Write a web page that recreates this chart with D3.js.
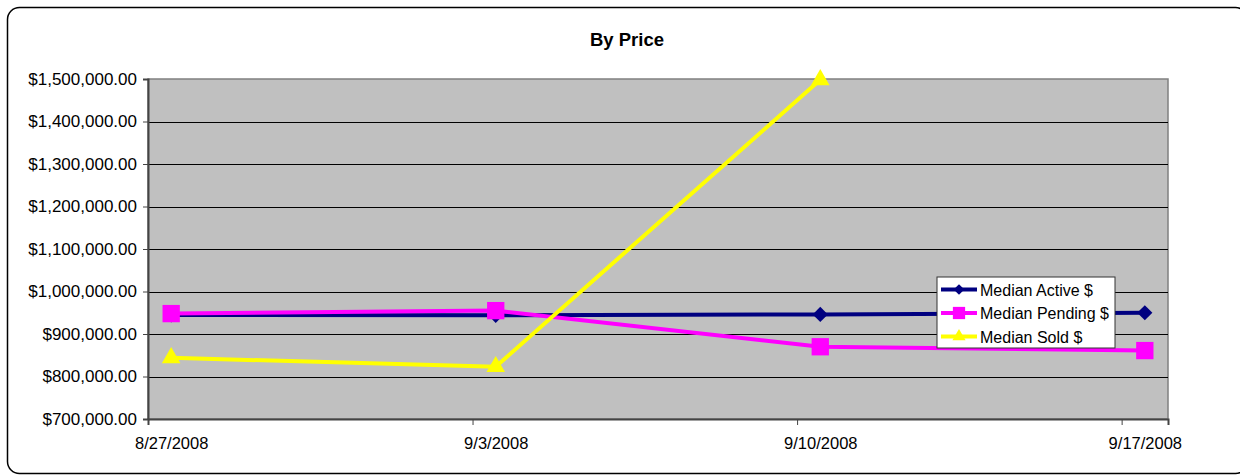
<!DOCTYPE html>
<html>
<head>
<meta charset="utf-8">
<script src="https://cdn.jsdelivr.net/npm/d3@7"></script>
<style>
  body { margin: 0; background: #fff; }
  text { font-family: "Liberation Sans", Arial, sans-serif; fill: #000; }
</style>
</head>
<body>
<svg id="svg"></svg>
<script>
// values
let dates = ["2008-08-27", "2008-09-03", "2008-09-10", "2008-09-17"];
let activeVals = [945000, 944000, 946000, 950000];
let pendingVals = [948000, 955000, 870000, 861000];
let soldVals = [844000, 823000, 1498000];
let yTicks = [700000, 800000, 900000, 1000000, 1100000, 1200000, 1300000, 1400000, 1500000];

let W = 1240, H = 475;
let plot = { x1: 148, x2: 1168, y1: 79, y2: 419 };
let DAY = 86400000;
let parse = d3.utcParse("%Y-%m-%d");
let dateObjs = dates.map(parse);

let svg = d3.select("#svg").attr("width", W).attr("height", H);

// outer rounded frame
svg.append("rect")
   .attr("x", 7.5).attr("y", 7.5)
   .attr("width", 1240).attr("height", 466)
   .attr("rx", 12)
   .attr("fill", "#fff").attr("stroke", "#000").attr("stroke-width", 1.5);

svg.append("text")
   .attr("x", 627).attr("y", 46)
   .attr("text-anchor", "middle")
   .style("font-weight", "bold").style("font-size", "18.5px")
   .text("By Price");

// date axis spans 22 days in the original, points sit in the middle of a day
let x = d3.scaleUtc()
          .domain([dateObjs[0], new Date(dateObjs[0].getTime() + 22 * DAY)])
          .range([plot.x1, plot.x2]);
let y = d3.scaleLinear().domain([700000, 1500000]).range([plot.y2, plot.y1]);
let mid = d => new Date(d.getTime() + DAY / 2);

// plot background
svg.append("rect")
   .attr("x", plot.x1).attr("y", plot.y1)
   .attr("width", plot.x2 - plot.x1).attr("height", plot.y2 - plot.y1)
   .attr("fill", "#c0c0c0").attr("stroke", "#808080").attr("stroke-width", 1.5);

// gridlines
svg.append("g").selectAll("line")
   .data(yTicks.slice(1, -1))
   .enter().append("line")
   .attr("x1", plot.x1).attr("x2", plot.x2)
   .attr("y1", d => Math.round(y(d)) + 0.5).attr("y2", d => Math.round(y(d)) + 0.5)
   .attr("stroke", "#000").attr("stroke-width", 1);

// y axis
let yAxis = svg.append("g")
   .attr("transform", `translate(${plot.x1},0)`)
   .call(d3.axisLeft(y).tickValues(yTicks).tickSize(5).tickPadding(6)
           .tickFormat(d => "$" + d3.format(",.2f")(d)));
yAxis.select(".domain").attr("stroke", "#444").attr("stroke-width", 2);
yAxis.selectAll(".tick line").attr("stroke", "#444");
yAxis.selectAll("text").style("font-size", "17px").attr("fill", "#000");

// x axis
let xAxis = svg.append("g")
   .attr("transform", `translate(0,${plot.y2})`)
   .call(d3.axisBottom(x).tickValues(dateObjs).tickSize(6).tickPadding(12)
           .tickFormat(d3.utcFormat("%-m/%-d/%Y")));
xAxis.select(".domain").attr("stroke", "#444").attr("stroke-width", 2);
xAxis.selectAll(".tick line").attr("stroke", "#444");
xAxis.selectAll("text")
     .style("font-size", "16.5px").attr("fill", "#000")
     .attr("x", x(mid(dateObjs[0])) - x(dateObjs[0]));

// series
let series = [
  { name: "Median Active $", vals: activeVals, color: "#000080", marker: d3.symbolSquare, size: 115, rot: 45 },
  { name: "Median Pending $", vals: pendingVals, color: "#ff00ff", marker: d3.symbolSquare, size: 300, rot: 0 },
  { name: "Median Sold $", vals: soldVals, color: "#ffff00", marker: d3.symbolTriangle, size: 150, rot: 0 }
];

let line = d3.line().x(d => x(mid(d.date))).y(d => y(d.v));

series.forEach(function(s) {
  let pts = s.vals.map((v, i) => ({ date: dateObjs[i], v: v }));
  svg.append("path")
     .datum(pts)
     .attr("d", line)
     .attr("fill", "none").attr("stroke", s.color).attr("stroke-width", 4);
  svg.append("g").selectAll("path")
     .data(pts).enter().append("path")
     .attr("d", d3.symbol().type(s.marker).size(s.size))
     .attr("transform", d => `translate(${x(mid(d.date))},${y(d.v)}) rotate(${s.rot})`)
     .attr("fill", s.color);
});

// legend
let lg = svg.append("g").attr("transform", "translate(937,277)");
lg.append("rect")
  .attr("width", 178).attr("height", 71)
  .attr("fill", "#fff").attr("stroke", "#333").attr("stroke-width", 1);
series.forEach(function(s, i) {
  let cy = 12.5 + i * 23.5;
  lg.append("line")
    .attr("x1", 4).attr("x2", 40).attr("y1", cy).attr("y2", cy)
    .attr("stroke", s.color).attr("stroke-width", 4);
  lg.append("path")
    .attr("d", d3.symbol().type(s.marker).size(s.size * 0.5))
    .attr("transform", `translate(22,${cy}) rotate(${s.rot})`)
    .attr("fill", s.color);
  lg.append("text")
    .attr("x", 43).attr("y", cy + 6)
    .style("font-size", "16px")
    .text(s.name);
});
</script>
</body>
</html>
